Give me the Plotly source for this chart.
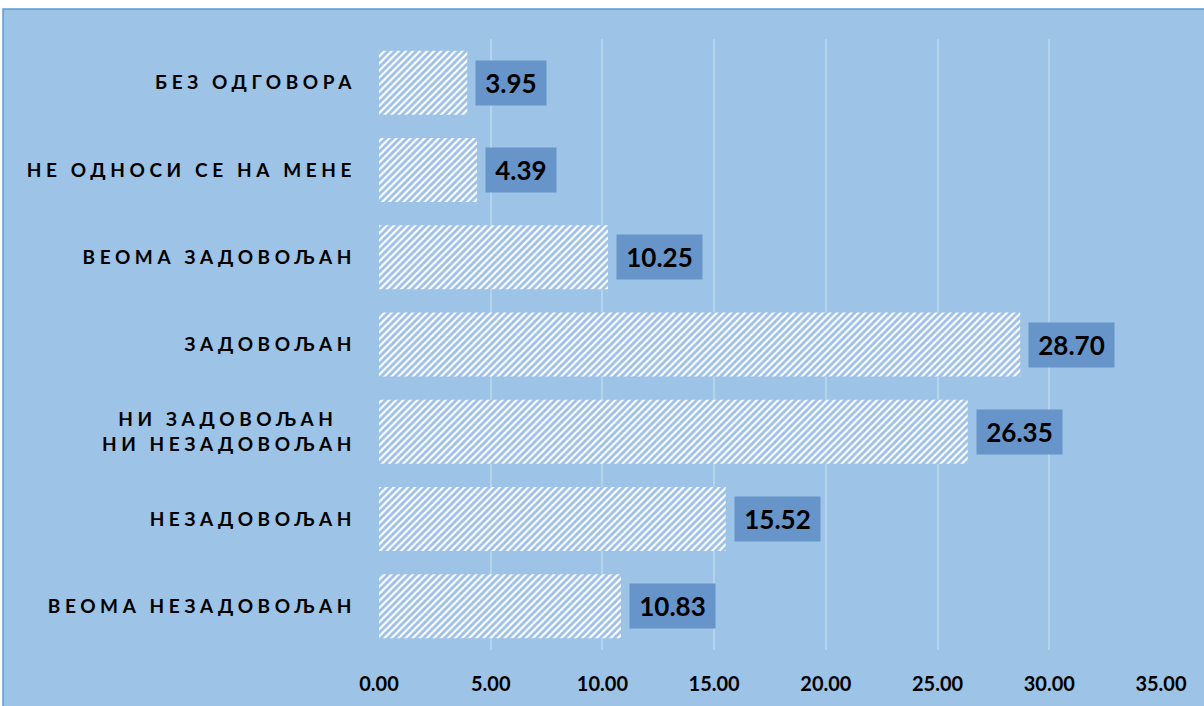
import plotly.graph_objects as go

# Data (bottom to top)
categories = [
    "ВЕОМА НЕЗАДОВОЉАН",
    "НЕЗАДОВОЉАН",
    "НИ ЗАДОВОЉАН<br>НИ НЕЗАДОВОЉАН",
    "ЗАДОВОЉАН",
    "ВЕОМА ЗАДОВОЉАН",
    "НЕ ОДНОСИ СЕ НА МЕНЕ",
    "БЕЗ ОДГОВОРА",
]
values = [10.83, 15.52, 26.35, 28.70, 10.25, 4.39, 3.95]
x_ticks = [0, 5, 10, 15, 20, 25, 30, 35]

BG = "#9DC3E6"
LABEL_BG = "#6795CA"
HATCH = "#3A80D2"
FONT = "Lato"

# tick text: centre the first line of the two-line label with trailing padding
ticktext = []
for c in categories:
    if "<br>" in c:
        a, b = c.split("<br>")
        ticktext.append(a + "\u00a0\u00a0" + "<br>" + b)
    else:
        ticktext.append(c)

fig = go.Figure()
fig.add_trace(go.Bar(
    x=values,
    y=categories,
    orientation="h",
    marker=dict(
        color="white",
        line=dict(width=0),
        pattern=dict(shape="/", fgcolor=HATCH, bgcolor="white", size=5, solidity=0.55),
    ),
    hoverinfo="x+y",
))

for c, v in zip(categories, values):
    txt = f"{v:.2f}"
    fig.add_annotation(
        x=v, y=c, xref="x", yref="y",
        text=f"<b>{txt}</b>",
        showarrow=False,
        xanchor="left", yanchor="middle",
        xshift=8,
        bgcolor=LABEL_BG,
        width=15 * len(txt),
        height=34,
        borderpad=5,
        font=dict(family=FONT, size=26, color="black"),
    )

# chart area background with border (top/left visible)
fig.add_shape(
    type="rect", xref="paper", yref="paper",
    x0=-0.4808, x1=1.08, y0=-0.12, y1=1.049,
    fillcolor=BG, line=dict(color="#5B9BD5", width=1.5),
    layer="below",
)

fig.update_layout(
    width=1204, height=706,
    margin=dict(l=379, r=43, t=39, b=56),
    paper_bgcolor="white",
    plot_bgcolor="rgba(0,0,0,0)",
    bargap=0.267,
    showlegend=False,
    xaxis=dict(
        range=[0, 35],
        tickvals=x_ticks,
        tickformat=".2f",
        showgrid=True,
        gridcolor="#B6D3EE",
        gridwidth=1.5,
        zeroline=False,
        showline=False,
        ticks="",
        ticklabelstandoff=20,
        tickfont=dict(family=FONT, size=20, color="black", weight="bold"),
        fixedrange=True,
    ),
    yaxis=dict(
        type="category",
        categoryorder="array",
        categoryarray=categories,
        tickvals=categories,
        ticktext=ticktext,
        showgrid=False,
        zeroline=False,
        showline=False,
        ticks="",
        ticklabelstandoff=22,
        tickfont=dict(family=FONT, size=19, color="black", weight="bold"),
        fixedrange=True,
    ),
)

post = """
document.body.style.margin = '0';
var gd = document.getElementById('{plot_id}');
function spaceLabels(){
  var ts = gd.querySelectorAll('.ytick text');
  ts.forEach(function(t){ t.style.letterSpacing = '4.6px'; });
}
spaceLabels();
if (gd.on) { gd.on('plotly_afterplot', spaceLabels); }
setTimeout(spaceLabels, 50);
"""

fig.write_html("out.html", post_script=post, config={"displayModeBar": False})
